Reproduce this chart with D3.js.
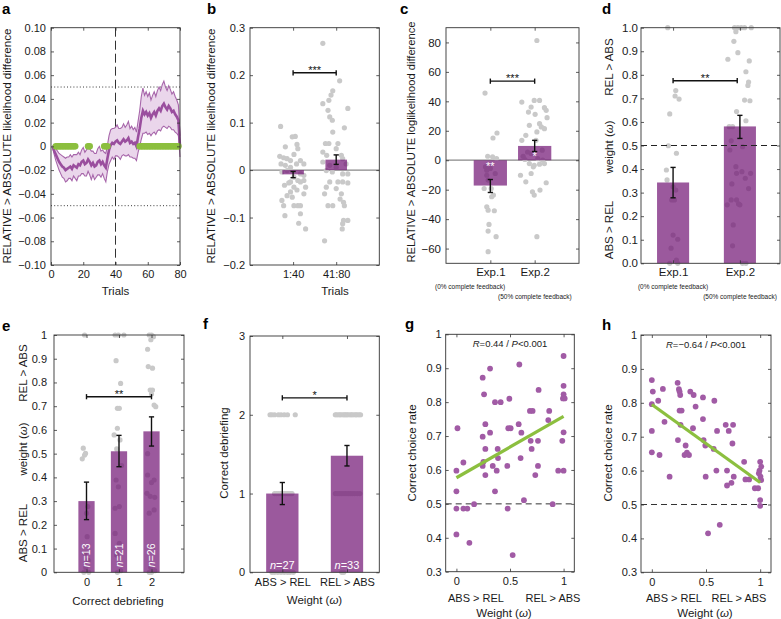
<!DOCTYPE html>
<html><head><meta charset="utf-8">
<script src="https://cdn.jsdelivr.net/npm/d3@7"></script>
<style>body{margin:0;background:#fff}</style>
</head><body>
<svg id="chart" width="781" height="619"></svg>
<script>
// ---------------- DATA ----------------
// Panel a: time course (trials 1..80)
const aMean = [
0.000,-0.004,-0.007,-0.010,-0.013,-0.015,-0.017,-0.018,-0.020,-0.019,
-0.018,-0.017,-0.019,-0.016,-0.017,-0.018,-0.015,-0.016,-0.013,-0.012,
-0.015,-0.014,-0.011,-0.013,-0.016,-0.014,-0.017,-0.016,-0.013,-0.012,
-0.015,-0.013,-0.016,-0.018,-0.010,-0.003,0.001,0.003,0.002,0.004,
0.005,0.003,0.002,0.004,0.006,0.004,0.005,0.007,0.003,0.004,
0.002,0.003,0.000,0.008,0.015,0.024,0.030,0.027,0.029,0.026,
0.028,0.024,0.027,0.029,0.026,0.030,0.032,0.030,0.034,0.036,
0.033,0.031,0.034,0.032,0.029,0.030,0.027,0.025,0.022,0.000];
const aSem = [
0.001,0.003,0.005,0.006,0.007,0.008,0.009,0.009,0.010,0.010,
0.009,0.010,0.010,0.009,0.010,0.011,0.010,0.009,0.010,0.011,
0.010,0.011,0.010,0.011,0.012,0.010,0.011,0.010,0.011,0.012,
0.011,0.010,0.011,0.012,0.011,0.012,0.013,0.012,0.013,0.012,
0.013,0.012,0.013,0.012,0.013,0.012,0.013,0.014,0.012,0.013,
0.012,0.013,0.012,0.013,0.015,0.018,0.019,0.016,0.017,0.016,
0.017,0.015,0.016,0.017,0.016,0.017,0.018,0.017,0.018,0.019,
0.017,0.016,0.017,0.016,0.015,0.016,0.015,0.014,0.013,0.009];
const aSigTrials = [3,4,5,6,7,8,9,10,11,12,13,14,15,23,24,33,34,35,
55,56,57,58,59,60,61,62,63,64,65,66,67,68,69,70,71,72,73,74,75,76,77,78,79];
const aXTicks = [0,20,40,60,80];
const aYTicks = [-0.1,-0.08,-0.06,-0.04,-0.02,0,0.02,0.04,0.06,0.08,0.1];

// Panel b
const bCats = ["1:40","41:80"];
const bMeans = [-0.009, 0.022];
const bLo = [-0.016, 0.012];
const bHi = [-0.003, 0.032];
const bYTicks = [-0.2,-0.1,0,0.1,0.2,0.3];
const bPts1 = [[-0.29,0.092],[-0.18,0.049],[-0.02,0.070],[0.05,0.071],[0.09,0.054],[0.11,0.045],[0.02,0.033],
[-0.31,0.029],[-0.22,0.026],[-0.14,0.024],[-0.06,0.020],[-0.28,0.013],[-0.18,0.010],[-0.06,0.006],[0.08,0.013],
[0.17,0.020],[0.25,0.013],[-0.26,-0.004],[-0.14,-0.001],[0.17,-0.008],[0.25,-0.011],[0.02,-0.015],[0.11,-0.022],
[-0.06,-0.025],[-0.2,-0.032],[-0.1,-0.027],[0.17,-0.025],[0.25,-0.022],[0.29,-0.036],[0.02,-0.036],[0.09,-0.042],
[-0.06,-0.046],[0.25,-0.050],[-0.26,-0.064],[-0.22,-0.075],[0.02,-0.075],[0.11,-0.075],[0.17,-0.075],[-0.19,-0.096],
[0.17,-0.092],[0.13,-0.112],[0.29,-0.124],[-0.14,-0.054],[-0.02,-0.057]];
const bPts2 = [[-0.31,0.267],[0.08,0.188],[-0.08,0.167],[-0.12,0.158],[-0.17,0.147],[-0.31,0.140],[-0.19,0.126],
[0.27,0.130],[-0.15,0.112],[-0.09,0.105],[0.19,0.089],[-0.08,0.080],[-0.25,0.056],[-0.17,0.056],[0.04,0.056],
[-0.31,0.038],[0,0.045],[-0.22,0.031],[0.12,0.031],[0.15,0.024],[0.23,0.013],[-0.31,0.017],[-0.15,0.010],[0,0.006],
[-0.23,-0.001],[-0.09,-0.004],[0.15,-0.008],[0.27,-0.008],[-0.15,-0.025],[0.04,-0.025],[0.15,-0.025],[0.27,-0.027],
[-0.23,-0.036],[0,-0.039],[0.12,-0.050],[0.09,-0.061],[0.17,-0.068],[-0.19,-0.075],[-0.08,-0.075],[0.19,-0.075],
[0.17,-0.106],[0.27,-0.106],[0.14,-0.124],[0.15,-0.113],[-0.27,-0.149],[-0.27,-0.050]];

// Panel c
const cCats = ["Exp.1","Exp.2"];
const cSub = ["(0% complete feedback)","(50% complete feedback)"];
const cMeans = [-17.2, 9.7];
const cLo = [-21.9, 5.9];
const cHi = [-13.1, 13.5];
const cInStars = ["**","*"];
const cYTicks = [-60,-40,-20,0,20,40,60,80];
const cPts1 = [[-0.12,45.6],[0.15,18.5],[0.06,15.1],[-0.06,2.7],[0.14,1.1],[0.05,2.3],[-0.11,-4.5],[0,-5.6],
[0.11,-9],[-0.08,-10.2],[-0.05,-13.5],[-0.14,-19.2],[0.02,-19.2],[0.07,-23.7],[0.03,-24.8],[-0.08,-31.6],
[-0.05,-33.9],[0.09,-34.3],[-0.03,-43.6],[-0.05,-48.1],[0.13,-51.9],[-0.05,-62.1],[-0.08,-6.8]];
const cPts2 = [[0.05,81.3],[-0.29,39.5],[-0.01,40.6],[0.11,40.6],[0.22,35.7],[0.26,33.9],[-0.08,36.1],[-0.14,32.7],
[0.01,31.2],[0.28,28.9],[-0.12,23.7],[0.11,24.8],[0.15,22.6],[0.22,21.4],[-0.2,16.9],[-0.29,13.5],[0.05,19.2],
[0.03,13.5],[-0.16,5.6],[0.17,6.8],[-0.26,2.7],[-0.08,4.5],[0.07,1.1],[0.18,0],[-0.22,0.5],[-0.12,-2.3],[-0.01,-3.4],
[0.11,-2.7],[0.22,-2.3],[-0.32,-10.2],[-0.08,-9],[-0.2,-14.7],[0.26,-15.3],[0.12,-20.3],[-0.05,-21.4],[-0.01,-23.7],
[0.05,-51.9],[-0.03,-4.5]];

// Panel d
const dMeans = [0.343, 0.581];
const dLo = [0.278, 0.530];
const dHi = [0.407, 0.628];
const dYTicks = [0,0.1,0.2,0.3,0.4,0.5,0.6,0.7,0.8,0.9,1];
const dPts1 = [[-0.08,1.0],[0.04,0.733],[0.03,0.71],[0.09,0.697],[-0.05,0.634],[-0.07,0.499],[0.05,0.467],
[-0.1,0.396],[-0.09,0.354],[0.04,0.311],[-0.02,0.269],[0.02,0.269],[0,0.12],[0.07,0.102],[-0.03,0.064],
[0.05,0.014],[-0.05,0.0],[0.07,0.0],[0,0.325]];
const dPts2 = [[-0.08,1.0],[-0.03,1.0],[0.02,1.0],[0.07,1.0],[0.17,1.0],[-0.06,0.983],[-0.09,0.942],[-0.03,0.894],
[-0.18,0.866],[0.14,0.859],[0.09,0.813],[0.13,0.769],[0.12,0.755],[0.07,0.693],[0.15,0.69],[-0.05,0.644],
[0.09,0.605],[-0.16,0.58],[-0.11,0.58],[-0.13,0.52],[-0.15,0.481],[0.04,0.495],[-0.06,0.41],[0.03,0.389],
[0.08,0.361],[0.16,0.382],[-0.12,0.337],[0.13,0.317],[-0.19,0.248],[-0.13,0.269],[-0.05,0.269],[-0.02,0.252],
[0,0.248],[-0.1,0.163],[-0.11,0.074],[0.04,0.0],[0.09,0.0],[-0.05,0.382]];

// Panel e
const eCats = ["0","1","2"];
const eMeans = [0.30, 0.51, 0.594];
const eLo = [0.222, 0.445, 0.532];
const eHi = [0.380, 0.577, 0.655];
const eN = ["13","21","26"];
const ePts = [
 [[-0.06,1.0],[-0.1,0.523],[-0.03,0.501],[-0.06,0.494],[-0.13,0.478],[0.04,0.277],[0,0.249],
  [-0.08,0],[0.07,0],[-0.02,0.02],[0.05,0.05],[-0.05,0.08],[0.02,0.15]],
 [[-0.12,1.0],[-0.02,1.0],[0.15,1.0],[-0.09,0.892],[0.05,0.796],[-0.05,0.691],[0.01,0.691],[-0.05,0.607],
  [-0.15,0.579],[0.03,0.558],[-0.09,0.389],[-0.02,0.36],[-0.12,0.27],[0.01,0.277],[-0.12,0.164],[0.01,0.122],
  [-0.07,0.073],[-0.05,0.0],[0.05,0.007],[0.08,0.45],[-0.07,0.52]],
 [[-0.07,1.0],[0,1.0],[0.06,0.993],[-0.02,0.98],[-0.12,0.94],[-0.1,0.867],[0.03,0.86],[-0.04,0.768],[0.03,0.768],
  [0,0.751],[0.08,0.705],[0.13,0.698],[-0.12,0.41],[0.08,0.389],[0,0.378],[-0.14,0.333],[-0.04,0.32],[0.1,0.316],
  [0.08,0.263],[-0.07,0.249],[0.03,0.108],[-0.02,0.02],[0.1,0.007],[-0.07,0.0],[0,0.0],[-0.12,0.5]]];
const eYTicks = [0,0.1,0.2,0.3,0.4,0.5,0.6,0.7,0.8,0.9,1];

// Panel f
const fCats = ["ABS > REL","REL > ABS"];
const fMeans = [1.0, 1.48];
const fLo = [0.86, 1.35];
const fHi = [1.14, 1.61];
const fN = ["27","33"];
const fYTicks = [0,1,2,3];
const fPts = [
 [[-0.19,2],[-0.16,2],[-0.12,2],[-0.06,2],[-0.02,2],[0.03,2],[0.08,2],[0.2,2],
  [-0.12,1],[-0.09,1],[-0.06,1],[-0.03,1],[0,1],[0.02,1],[0.05,1],[0.08,1],[0.1,1],[0.13,1],[0.15,1],
  [-0.16,0],[-0.12,0],[-0.07,0],[-0.02,0],[0.03,0],[0.08,0],[0.12,0],[0.17,0]],
 [[-0.18,2],[-0.16,2],[-0.13,2],[-0.11,2],[-0.09,2],[-0.06,2],[-0.04,2],[-0.02,2],[0,2],[0.02,2],[0.05,2],
  [0.07,2],[0.09,2],[0.12,2],[0.14,2],[0.16,2],[0.19,2],[0.21,2],
  [-0.18,1],[-0.15,1],[-0.12,1],[-0.09,1],[-0.06,1],[-0.03,1],[0,1],[0.03,1],[0.06,1],[0.09,1],[0.12,1],[0.16,1],[0.2,1],
  [-0.08,0],[-0.05,0]]];

// Panel g
const gPts = [[0.01,0.723],[0,0.598],[0,0.537],[0,0.486],[0,0.41],[0.065,0.622],[0.065,0.486],[0.102,0.486],
[0.121,0.385],[0.165,0.499],[0.245,0.872],[0.245,0.698],[0.258,0.823],[0.27,0.735],[0.27,0.662],[0.252,0.624],
[0.245,0.612],[0.27,0.585],[0.314,0.899],[0.314,0.71],[0.339,0.612],[0.36,0.8],[0.413,0.8],[0.36,0.537],
[0.376,0.598],[0.388,0.635],[0.385,0.662],[0.494,0.81],[0.475,0.612],[0.484,0.723],[0.506,0.723],[0.478,0.486],
[0.525,0.349],[0.587,0.911],[0.581,0.735],[0.606,0.71],[0.599,0.635],[0.63,0.511],[0.686,0.774],[0.711,0.774],
[0.693,0.686],[0.702,0.662],[0.736,0.585],[0.761,0.686],[0.761,0.612],[0.767,0.836],[0.866,0.774],[0.857,0.747],
[0.898,0.499],[0.95,0.598],[0.988,0.686],[1,0.936],[1,0.848],[1,0.823],[0.994,0.811],[1.01,0.811],[1,0.711],[1,0.598]];
const gFit = [[0,0.577],[1,0.758]];
const gStat = ["R","=0.44 / ","P","<0.001"];

// Panel h
const hPts = [[0,0.867],[0.009,0.833],[0,0.796],[0,0.717],[0,0.654],[0.059,0.806],[0.071,0.646],[0.102,0.841],
[0.117,0.744],[0.164,0.582],[0.238,0.859],[0.25,0.84],[0.256,0.833],[0.262,0.823],[0.256,0.777],[0.275,0.777],
[0.265,0.735],[0.241,0.69],[0.312,0.674],[0.302,0.646],[0.324,0.653],[0.343,0.646],[0.355,0.833],[0.386,0.823],
[0.38,0.725],[0.404,0.789],[0.472,0.816],[0.472,0.752],[0.478,0.69],[0.494,0.674],[0.497,0.582],[0.577,0.806],
[0.571,0.664],[0.602,0.717],[0.596,0.6],[0.627,0.44],[0.519,0.415],[0.682,0.735],[0.71,0.717],[0.75,0.735],
[0.744,0.68],[0.694,0.6],[0.694,0.556],[0.735,0.564],[0.756,0.582],[0.852,0.626],[0.864,0.574],[0.898,0.574],
[0.951,0.548],[0.981,0.548],[1,0.626],[0.994,0.6],[0.988,0.592],[1.003,0.582],[1.01,0.572],[1,0.513],[1,0.496],[1.01,0.612]];
const hFit = [[0,0.795],[1,0.565]];
const hStat = ["R","=\u22120.64 / ","P","<0.001"];
const ghXTicks = [0,0.5,1];
const ghYTicks = [0.3,0.4,0.5,0.6,0.7,0.8,0.9,1];

// ---------------- DRAWING ----------------
const FONT = "'Liberation Sans', Arial, Helvetica, sans-serif";
const TXT = "#1a1a1a";
const PURPLE_BAR = "#701374", BAR_OP = 0.7;
const GRAY_PT = "#c9c9c9";
const GREEN = "#8cbf3f";
const svg = d3.select("#chart").attr("font-family", FONT);

function panel(L,T,R,B,xd,yd){
  const g = svg.append("g").attr("transform",`translate(${L},${T})`);
  const w = R-L, h = B-T;
  return {g, w, h, L, T,
    x: d3.scaleLinear().domain(xd).range([0,w]),
    y: d3.scaleLinear().domain(yd).range([h,0])};
}
function axes(p, o){
  const ax = p.g.append("g");
  ax.append("g").call(d3.axisLeft(p.y).tickValues(o.yt).tickFormat(o.yf)
      .tickSizeInner(-3).tickSizeOuter(0).tickPadding(o.ypad));
  ax.append("g").attr("transform",`translate(${p.w},0)`).call(d3.axisRight(p.y).tickValues(o.yt)
      .tickFormat(()=>"").tickSizeInner(-3).tickSizeOuter(0));
  ax.append("g").attr("transform",`translate(0,${p.h})`).call(d3.axisBottom(p.x).tickValues(o.xt)
      .tickFormat(o.xf).tickSizeInner(-3).tickSizeOuter(0).tickPadding(o.xpad));
  ax.append("g").call(d3.axisTop(p.x).tickValues(o.xt).tickFormat(()=>"")
      .tickSizeInner(-3).tickSizeOuter(0));
  ax.selectAll(".domain").remove();
  ax.selectAll(".tick line").attr("stroke","#333").attr("stroke-width",0.8);
  ax.selectAll("text").attr("font-size", o.fs||11).attr("fill",TXT).attr("font-family",FONT);
  p.g.append("rect").attr("width",p.w).attr("height",p.h).attr("fill","none")
    .attr("stroke","#333").attr("stroke-width",0.9);
}
function letter(t,x,y){ svg.append("text").attr("x",x).attr("y",y).text(t)
  .attr("font-size",15).attr("font-weight","bold").attr("fill","#000"); }
function ytitle(cx,cy,parts,fs,len){
  const t = svg.append("text").attr("transform",`translate(${cx},${cy}) rotate(-90)`)
    .attr("text-anchor","middle").attr("dy","0.35em").attr("font-size",fs).attr("fill",TXT);
  parts.forEach(pp=>{ const s=t.append("tspan").text(pp[0]); if(pp[1]) s.attr("font-style","italic"); });
  if(len) t.attr("textLength",len).attr("lengthAdjust","spacingAndGlyphs");
  return t;
}
function htext(x,y,parts,fs,anchor,fill){
  const t = svg.append("text").attr("x",x).attr("y",y).attr("text-anchor",anchor||"middle")
    .attr("font-size",fs).attr("fill",fill||TXT);
  parts.forEach(pp=>{ const s=t.append("tspan").text(pp[0]); if(pp[1]) s.attr("font-style","italic"); });
  return t;
}
function points(p, pts, cx, r, color){
  p.g.append("g").selectAll("circle").data(pts).join("circle")
    .attr("cx",d=>p.x(cx + d[0])).attr("cy",d=>p.y(d[1])).attr("r",r).attr("fill",color);
}
function bars(p, xs, vals, bw, base){
  p.g.append("g").selectAll("rect").data(vals).join("rect")
    .attr("x",(d,i)=>p.x(xs[i]-bw/2)).attr("width",p.x(bw)-p.x(0))
    .attr("y",d=>Math.min(p.y(d),p.y(base))).attr("height",d=>Math.abs(p.y(d)-p.y(base)))
    .attr("fill",PURPLE_BAR).attr("fill-opacity",BAR_OP);
}
function errbars(p, xs, lo, hi){
  const g = p.g.append("g").attr("stroke","#111").attr("stroke-width",1.4);
  xs.forEach((xv,i)=>{
    const X=p.x(xv), y1=p.y(lo[i]), y2=p.y(hi[i]);
    g.append("line").attr("x1",X).attr("x2",X).attr("y1",y1).attr("y2",y2);
    g.append("line").attr("x1",X-2.6).attr("x2",X+2.6).attr("y1",y1).attr("y2",y1);
    g.append("line").attr("x1",X-2.6).attr("x2",X+2.6).attr("y1",y2).attr("y2",y2);
  });
}
function sig(p, x1, x2, yv, stars){
  const g = p.g.append("g").attr("stroke","#111").attr("stroke-width",1.4);
  const Y=p.y(yv), X1=p.x(x1), X2=p.x(x2);
  g.append("line").attr("x1",X1).attr("x2",X2).attr("y1",Y).attr("y2",Y);
  g.append("line").attr("x1",X1).attr("x2",X1).attr("y1",Y-2.6).attr("y2",Y+2.6);
  g.append("line").attr("x1",X2).attr("x2",X2).attr("y1",Y-2.6).attr("y2",Y+2.6);
  p.g.append("text").attr("x",(X1+X2)/2).attr("y",Y+1).attr("text-anchor","middle")
    .attr("font-size",11).attr("fill","#111").text(stars);
}
function hline(p, yv, color, width, dash, x0, x1){
  p.g.append("line").attr("x1",x0===undefined?0:x0).attr("x2",x1===undefined?p.w:x1)
    .attr("y1",p.y(yv)).attr("y2",p.y(yv)).attr("stroke",color).attr("stroke-width",width)
    .attr("stroke-dasharray",dash||null);
}
const f2 = d => d===0 ? "0" : d3.format(".2f")(d);
const f1z = d => d===0 ? "0" : d3.format(".1f")(d);

// ---- Panel a ----
(function(){
  const p = panel(51,27.7,180,265,[0,80],[-0.1,0.1]);
  const tr = aMean.map((m,i)=>({t:i+1, m, lo:m-aSem[i], hi:m+aSem[i]}));
  hline(p,0.05,"#222",0.9,"1,2.2"); hline(p,-0.05,"#222",0.9,"1,2.2");
  p.g.append("line").attr("x1",p.x(40)).attr("x2",p.x(40)).attr("y1",0).attr("y2",p.h)
    .attr("stroke","#333").attr("stroke-width",1).attr("stroke-dasharray","9,4");
  p.g.append("path").datum(tr).attr("d",d3.area().x(d=>p.x(d.t)).y0(d=>p.y(d.lo)).y1(d=>p.y(d.hi)))
    .attr("fill","#ead6eb");
  ["lo","hi"].forEach(k=>p.g.append("path").datum(tr).attr("d",d3.line().x(d=>p.x(d.t)).y(d=>p.y(d[k])))
    .attr("fill","none").attr("stroke","#a766aa").attr("stroke-width",1.1));
  p.g.append("path").datum(tr).attr("d",d3.line().x(d=>p.x(d.t)).y(d=>p.y(d.m)))
    .attr("fill","none").attr("stroke","#9a4e9e").attr("stroke-width",2.6);
  p.g.append("g").selectAll("circle").data(aSigTrials).join("circle")
    .attr("cx",d=>p.x(d)).attr("cy",p.y(0)).attr("r",3.3).attr("fill",GREEN);
  axes(p,{yt:aYTicks,yf:f2,ypad:5,xt:aXTicks,xf:d3.format("d"),xpad:5});
  letter("a",2,13.5);
  ytitle(7,146,[["RELATIVE > ABSOLUTE likelihood difference"]],11,235);
  htext(115.5,295,[["Trials"]],11.5);
})();

// ---- Panel b ----
(function(){
  const p = panel(250,27.7,379.3,265,[0,3],[-0.2,0.3]);
  hline(p,0,"#888",1.3);
  points(p,bPts1,1,2.6,GRAY_PT); points(p,bPts2,2,2.6,GRAY_PT);
  bars(p,[1,2],bMeans,0.5,0);
  errbars(p,[1,2],bLo,bHi);
  sig(p,1,2,0.205,"***");
  axes(p,{yt:bYTicks,yf:f1z,ypad:5,xt:[1,2],xf:(d,i)=>bCats[i],xpad:5});
  letter("b",207,13.5);
  ytitle(211,146,[["RELATIVE > ABSOLUTE likelihood difference"]],11,235);
  htext(335,295,[["Trials"]],11.5);
})();

// ---- Panel c ----
(function(){
  const p = panel(446,27.7,579,263.3,[0,3],[-70,90]);
  hline(p,0,"#888",1.3);
  points(p,cPts1,1,2.6,GRAY_PT); points(p,cPts2,2,2.6,GRAY_PT);
  bars(p,[1,2],cMeans,0.75,0);
  errbars(p,[1,2],cLo,cHi);
  sig(p,1,2,53.7,"***");
  p.g.append("text").attr("x",p.x(1)).attr("y",p.y(-3)+5).attr("text-anchor","middle")
    .attr("font-size",11).attr("fill","#fff").text(cInStars[0]);
  p.g.append("text").attr("x",p.x(2)).attr("y",p.y(3.4)+5).attr("text-anchor","middle")
    .attr("font-size",11).attr("fill","#fff").text(cInStars[1]);
  axes(p,{yt:cYTicks,yf:d3.format("d"),ypad:5,xt:[1,2],xf:(d,i)=>cCats[i],xpad:5,fs:11.5});
  letter("c",400,13.5);
  ytitle(411,142,[["RELATIVE > ABSOLUTE loglikelihood difference"]],10.5,241);
  htext(435,288.5,[[cSub[0]]],6.5,"start");
  htext(498,298.5,[[cSub[1]]],6.5,"start");
})();

// ---- Panel d ----
(function(){
  const p = panel(641,27.7,780,263.3,[0.52,2.6],[0,1]);
  points(p,dPts1,1,2.6,GRAY_PT); points(p,dPts2,2,2.6,GRAY_PT);
  bars(p,[1,2],dMeans,0.48,0);
  hline(p,0.5,"#222",1,"6,4");
  errbars(p,[1,2],dLo,dHi);
  sig(p,1,1.96,0.775,"**");
  axes(p,{yt:dYTicks,yf:d3.format(".1f"),ypad:3,xt:[1,2],xf:(d,i)=>cCats[i],xpad:5,fs:11.5});
  letter("d",602,13.5);
  ytitle(609,67,[["REL > ABS"]],11.5);
  ytitle(609,147,[["weight ("],["\u03c9",true],[")"]],11.5);
  ytitle(609,230,[["ABS > REL"]],11.5);
  htext(673,288.5,[[cSub[0]]],6.5,"middle");
  htext(740,298.5,[[cSub[1]]],6.5,"middle");
})();

// ---- Panel e ----
(function(){
  const p = panel(54,335,184,572.3,[-1,3],[0,1]);
  ePts.forEach((pts,i)=>points(p,pts,i,2.6,GRAY_PT));
  bars(p,[0,1,2],eMeans,0.5,0);
  errbars(p,[0,1,2],eLo,eHi);
  sig(p,0,2,0.74,"**");
  eN.forEach((n,i)=>{
    const t = p.g.append("text").attr("transform",`translate(${p.x(i)},${p.h-17}) rotate(-90)`)
      .attr("text-anchor","middle").attr("dy","0.35em").attr("font-size",10.5).attr("fill","#fff");
    t.append("tspan").attr("font-style","italic").text("n");
    t.append("tspan").text("="+n);
  });
  axes(p,{yt:eYTicks,yf:d=>d===0?"0":d===1?"1":d3.format(".1f")(d),ypad:7,xt:[0,1,2],xf:(d,i)=>eCats[i],xpad:6});
  letter("e",2,331);
  ytitle(22.5,373,[["REL > ABS"]],11.5);
  ytitle(22.5,449,[["weight ("],["\u03c9",true],[")"]],11.5);
  ytitle(22.5,533,[["ABS > REL"]],11.5);
  htext(118,605,[["Correct debriefing"]],11.5);
})();

// ---- Panel f ----
(function(){
  const p = panel(250,336,379.3,572.3,[0.5,2.5],[0,3]);
  fPts.forEach((pts,i)=>points(p,pts,i+1,2.6,GRAY_PT));
  bars(p,[1,2],fMeans,0.5,0);
  errbars(p,[1,2],fLo,fHi);
  sig(p,1,2,2.215,"*");
  fN.forEach((n,i)=>{
    const t = p.g.append("text").attr("x",p.x(i+1)).attr("y",p.h-3).attr("text-anchor","middle")
      .attr("font-size",11).attr("fill","#fff");
    t.append("tspan").attr("font-style","italic").text("n");
    t.append("tspan").text("="+n);
  });
  axes(p,{yt:fYTicks,yf:d3.format("d"),ypad:5,xt:[1,2],xf:(d,i)=>fCats[i],xpad:6});
  letter("f",203,328.5);
  ytitle(224,453,[["Correct debriefing"]],11.5);
  htext(314.5,604,[["Weight ("],["\u03c9",true],[")"]],11.5);
})();

// ---- scatter panels g, h ----
function scatterPanel(L,T,R,B,pts,fit,stat,lab,lx,ly,ytx,absX,relX,wX){
  const p = panel(L,T,R,B,[-0.1,1.1],[0.3,1]);
  hline(p,0.5,"#333",1,"6,4");
  points(p,pts,0,2.9,"#a15ba5");
  p.g.append("path").datum(fit).attr("d",d3.line().x(d=>p.x(d[0])).y(d=>p.y(d[1])))
    .attr("stroke",GREEN).attr("stroke-width",3.2).attr("fill","none");
  axes(p,{yt:ghYTicks,yf:d=>d===1?"1":d3.format(".1f")(d),ypad:4,xt:ghXTicks,xf:d=>d===0.5?"0.5":d3.format("d")(d),xpad:6});
  const st = p.g.append("text").attr("x",p.x(0.5)).attr("y",p.y(0.97)+3).attr("text-anchor","middle")
    .attr("font-size",9.5).attr("fill",TXT);
  st.append("tspan").attr("font-style","italic").text(stat[0]);
  st.append("tspan").text(stat[1]);
  st.append("tspan").attr("font-style","italic").text(stat[2]);
  st.append("tspan").text(stat[3]);
  letter(lab,lx,ly);
  ytitle(ytx,453,[["Correct choice rate"]],11.5);
  htext(absX,602,[["ABS > REL"]],11);
  htext(relX,602,[["REL > ABS"]],11);
  htext(wX,617,[["Weight ("],["\u03c9",true],[")"]],11.5);
}
scatterPanel(445.7,334.3,574.3,571.7,gPts,gFit,gStat,"g",405,329,412,476,553,504);
scatterPanel(641,335,771,572.3,hPts,hFit,hStat,"h",602,330,608,674,739,705);
</script>
</body></html>
